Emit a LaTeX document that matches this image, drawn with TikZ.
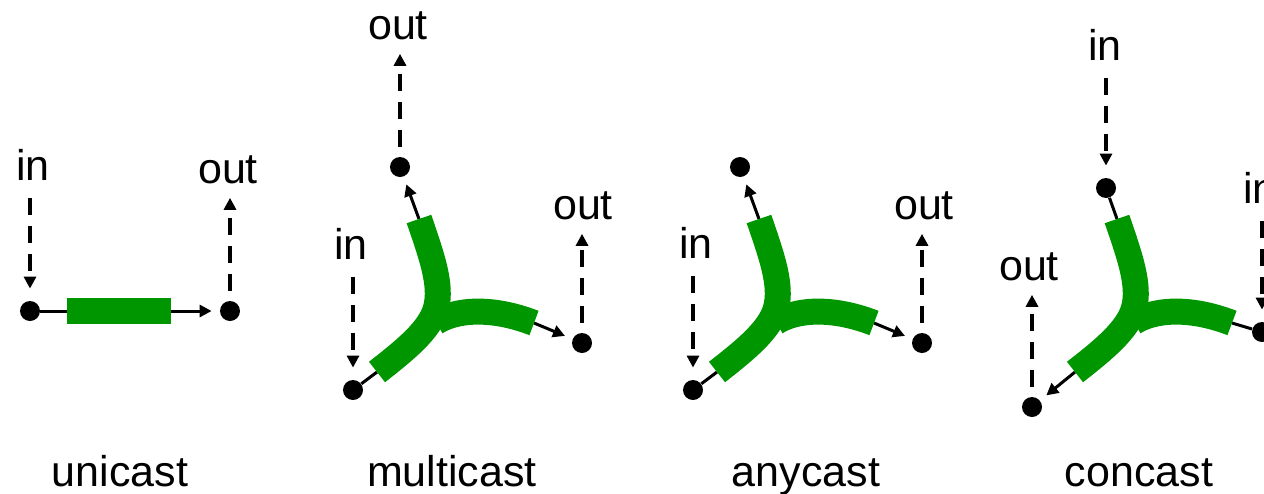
\documentclass[tikz,border=0pt]{standalone}
\usepackage{fontspec}
\setmainfont{Liberation Sans}
\usetikzlibrary{arrows.meta}
\definecolor{pipegreen}{RGB}{0,150,0}
\begin{document}
\begin{tikzpicture}[x=0.5pt,y=-0.5pt,
  dot/.style={circle,fill=black,inner sep=0pt,minimum size=10pt},
  lbl/.style={inner sep=0pt,anchor=base,font=\fontsize{21.5}{26}\selectfont},
  pipe/.style={draw=pipegreen,line width=13pt,line cap=butt},
  flow/.style={line width=1.5pt,-{Triangle[length=6pt,width=6pt]},shorten >=4pt},
  link/.style={line width=1.5pt},
  dashbase/.style={line width=2.3pt,dash pattern=on 8.5pt off 5.5pt,-{Triangle[length=6pt,width=6pt]}},
  indash/.style={dashbase,shorten <=9pt,shorten >=6pt},
  outdash/.style={dashbase,shorten <=5pt,shorten >=7pt}]
\clip (0,0) rectangle (1264,493);

% Y-shaped pipe, drawn in a shifted scope for each of the three cases
\newcommand\ypipedraw[1]{%
  \begin{scope}[shift={(#1,0)}]
    \draw[pipe] (419,219) .. controls (432,257) and (442,285) .. (436,308)
                          .. controls (430,330) and (405,350) .. (377,372);
    \draw[pipe] (436,322) .. controls (455,310) and (490,306) .. (534,323);
  \end{scope}}

% ---------- unicast ----------
\node[dot] (u-in) at (30,311) {};
\node[dot] (u-out) at (230,311) {};
\node[fill=pipegreen,inner sep=0pt,minimum width=52pt,minimum height=13pt] (u-pipe) at (119,311) {};
\draw[link] (u-in) -- (u-pipe);
\draw[flow] (u-pipe) -- (u-out);
\node[lbl] (u-inl) at (33,180) {in};
\node[lbl] (u-outl) at (228,183) {out};
\draw[indash] (u-in |- u-inl.south) -- (u-in);
\draw[outdash] (u-out) -- (u-out |- u-outl.south);
\node[lbl] (u-name) at (120,486) {unicast};

% ---------- multicast ----------
\node[dot] (m-top) at (400,167) {};
\node[dot] (m-right) at (582,343) {};
\node[dot] (m-bl) at (353,390) {};
\coordinate (m-ta) at (419,219);
\coordinate (m-ra) at (534,323);
\coordinate (m-la) at (377,372);
\draw[flow] (m-ta) -- (m-top);
\draw[flow] (m-ra) -- (m-right);
\draw[link] (m-la) -- (m-bl);
\ypipedraw{0}
\node[lbl] (m-outt) at (398,39) {out};
\node[lbl] (m-outr) at (583,219) {out};
\node[lbl] (m-in) at (351,259) {in};
\draw[outdash] (m-top) -- (m-top |- m-outt.south);
\draw[outdash] (m-right) -- (m-right |- m-outr.south);
\draw[indash] (m-bl |- m-in.south) -- (m-bl);
\node[lbl] (m-name) at (452,486) {multicast};

% ---------- anycast ----------
\node[dot] (a-top) at (740,167) {};
\node[dot] (a-right) at (922,343) {};
\node[dot] (a-bl) at (693,390) {};
\coordinate (a-ta) at (759,219);
\coordinate (a-ra) at (874,323);
\coordinate (a-la) at (717,372);
\draw[flow] (a-ta) -- (a-top);
\draw[flow] (a-ra) -- (a-right);
\draw[link] (a-la) -- (a-bl);
\ypipedraw{340}
\node[lbl] (a-outr) at (924,219) {out};
\node[lbl] (a-in) at (696,258) {in};
\draw[outdash] (a-right) -- (a-right |- a-outr.south);
\draw[indash] (a-bl |- a-in.south) -- (a-bl);
\node[lbl] (a-name) at (806,486) {anycast};

% ---------- concast ----------
\node[dot] (c-top) at (1106,188) {};
\node[dot] (c-right) at (1262,332) {};
\node[dot] (c-bl) at (1032,407) {};
\coordinate (c-ta) at (1117,219);
\coordinate (c-ra) at (1232,323);
\coordinate (c-la) at (1075,372);
\draw[link] (c-top) -- (c-ta);
\draw[link] (c-right) -- (c-ra);
\draw[flow] (c-la) -- (c-bl);
\ypipedraw{698}
\node[lbl] (c-intop) at (1105,60) {in};
\node[lbl] (c-inr) at (1260,203) {in};
\node[lbl] (c-out) at (1029,280) {out};
\draw[indash] (c-top |- c-intop.south) -- (c-top);
\draw[indash] (c-right |- c-inr.south) -- (c-right);
\draw[outdash] (c-bl) -- (c-bl |- c-out.south);
\node[lbl] (c-name) at (1139,486) {concast};
\end{tikzpicture}
\end{document}
